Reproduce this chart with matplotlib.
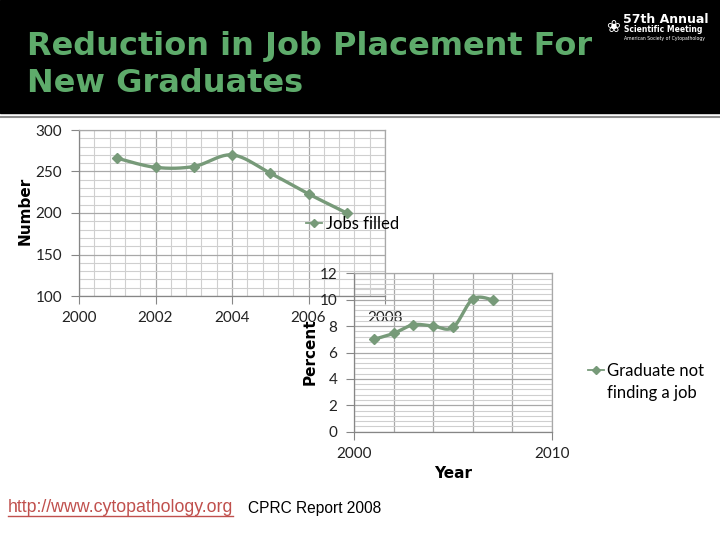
"""Reduction in job placement for new graduates: two overlapping line charts."""
import matplotlib
matplotlib.use("Agg")
import matplotlib.pyplot as plt
import numpy as np
from matplotlib.lines import Line2D
from matplotlib.ticker import MultipleLocator

# ---------------------------------------------------------------------------
# Data
# ---------------------------------------------------------------------------
years_jobs = [2001, 2002, 2003, 2004, 2005, 2006, 2007]
jobs_filled = [266, 255, 256, 270, 248, 223, 200]

years_pct = [2001, 2002, 2003, 2004, 2005, 2006, 2007]
pct_not_finding = [7.0, 7.45, 8.1, 8.0, 7.9, 10.05, 10.0]

LINE_C = "#779a79"
TITLE_C = "#5eab6b"
MINOR_C = "#cfcfcf"
MAJOR_C = "#a8a8a8"
TICK_FONT = "Lato"


def smooth(x, y, n=24):
    """Excel-style smoothed line (Bezier through points, tension 1/6)."""
    p = np.column_stack([x, y]).astype(float)
    p = np.vstack([p[0], p, p[-1]])
    t = np.linspace(0, 1, n)[:, None]
    out = []
    for i in range(1, len(p) - 2):
        p0, p1, p2, p3 = p[i - 1], p[i], p[i + 1], p[i + 2]
        b1 = p1 + (p2 - p0) / 6.0
        b2 = p2 - (p3 - p1) / 6.0
        seg = ((1 - t) ** 3) * p1 + 3 * ((1 - t) ** 2) * t * b1 \
            + 3 * (1 - t) * t ** 2 * b2 + t ** 3 * p2
        out.append(seg)
    s = np.vstack(out)
    return s[:, 0], s[:, 1]


def style_axes(ax):
    ax.grid(True, which="minor", color=MINOR_C, lw=0.8)
    ax.grid(True, which="major", color=MAJOR_C, lw=0.9)
    ax.set_axisbelow(True)
    for sp in ax.spines.values():
        sp.set_color(MAJOR_C)
        sp.set_linewidth(0.9)
    ax.spines["left"].set_color("#868686")
    ax.spines["bottom"].set_color("#868686")
    ax.tick_params(which="major", length=6, color="#868686",
                   labelsize=11, labelcolor="#222222")
    ax.tick_params(which="minor", length=0)
    for lab in ax.get_xticklabels() + ax.get_yticklabels():
        lab.set_fontfamily(TICK_FONT)


fig = plt.figure(figsize=(7.2, 5.4), dpi=100)
fig.patch.set_facecolor("white")

# Header band
fig.add_artist(plt.Rectangle((0, 1 - 113 / 540), 1, 113 / 540,
                             transform=fig.transFigure, color="black", zorder=0))
fig.add_artist(Line2D([0, 1], [1 - 117 / 540] * 2, transform=fig.transFigure,
                      color="#8c8c8c", lw=1.5))
fig.text(27 / 720, 1 - 55 / 540, "Reduction in Job Placement For",
         color=TITLE_C, fontsize=23, fontweight="bold",
         family="DejaVu Sans", va="baseline")
fig.text(27 / 720, 1 - 92 / 540, "New Graduates",
         color=TITLE_C, fontsize=23, fontweight="bold",
         family="DejaVu Sans", va="baseline")

# Logo (approximate)
fig.text(606 / 720, 1 - 27 / 540, "\u2740", color="white", fontsize=12,
         family="DejaVu Sans", va="center")
fig.text(623 / 720, 1 - 23 / 540, "57th Annual", color="white", fontsize=9,
         fontweight="bold", family="DejaVu Sans", va="baseline")
fig.text(624 / 720, 1 - 32 / 540, "Scientific Meeting", color="white",
         fontsize=5.5, fontweight="bold", family="DejaVu Sans", va="baseline")
fig.text(624 / 720, 1 - 40 / 540, "American Society of Cytopathology",
         color="white", fontsize=3.3, family="DejaVu Sans", va="baseline")

# ---------------------------------------------------------------------------
# Top chart: jobs filled
# ---------------------------------------------------------------------------
ax1 = fig.add_axes([79 / 720, 1 - 296 / 540, 306 / 720, 166 / 540])
xs, ys = smooth(years_jobs, jobs_filled)
ax1.plot(xs, ys, color=LINE_C, lw=2.4, solid_capstyle="round", zorder=3)
ax1.plot(years_jobs, jobs_filled, ls="none", marker="D", ms=5,
         color=LINE_C, zorder=4)
ax1.set_xlim(2000, 2008)
ax1.set_ylim(100, 300)
ax1.xaxis.set_major_locator(MultipleLocator(2))
ax1.xaxis.set_minor_locator(MultipleLocator(0.4))
ax1.yaxis.set_major_locator(MultipleLocator(50))
ax1.yaxis.set_minor_locator(MultipleLocator(10))
ax1.set_xticks([2000, 2002, 2004, 2006, 2008])
ax1.set_xticklabels(["2000", "2002", "2004", "2006", "2008"])
ax1.tick_params(axis="x", pad=5)
ax1.tick_params(axis="y", pad=6)
style_axes(ax1)
ax1.set_ylabel("Number", fontsize=11, fontweight="bold", family="DejaVu Sans")
ax1.yaxis.set_label_coords(-46 / 306, 0.512)
ax1.set_facecolor("none")
ax1.legend([Line2D([], [], color=LINE_C, lw=1.3, marker="D", ms=4.5)],
           ["Jobs filled"], loc="center left", frameon=False,
           bbox_to_anchor=(299 / 720, 1 - 224 / 540), borderaxespad=0,
           bbox_transform=fig.transFigure, handlelength=1.0,
           handletextpad=0.25, prop={"family": TICK_FONT, "size": 12})

# ---------------------------------------------------------------------------
# Bottom chart: graduates not finding a job
# ---------------------------------------------------------------------------
ax2 = fig.add_axes([354 / 720, 1 - 431.7 / 540, 198 / 720, 158.4 / 540])
xs, ys = smooth(years_pct, pct_not_finding)
ax2.plot(xs, ys, color=LINE_C, lw=2.4, solid_capstyle="round", zorder=3)
ax2.plot(years_pct, pct_not_finding, ls="none", marker="D", ms=5,
         color=LINE_C, zorder=4)
ax2.set_xlim(2000, 2010)
ax2.set_ylim(0, 12)
ax2.xaxis.set_major_locator(MultipleLocator(10))
ax2.xaxis.set_minor_locator(MultipleLocator(2))
ax2.yaxis.set_major_locator(MultipleLocator(2))
ax2.yaxis.set_minor_locator(MultipleLocator(0.4))
ax2.set_xticks([2000, 2010])
ax2.set_xticklabels(["2000", "2010"])
ax2.tick_params(axis="x", pad=5)
ax2.tick_params(axis="y", pad=6)
style_axes(ax2)
ax2.grid(True, which="minor", axis="x", color=MAJOR_C, lw=0.9)
ax2.set_facecolor("none")
ax2.set_ylabel("Percent", fontsize=11, fontweight="bold", family="DejaVu Sans")
ax2.yaxis.set_label_coords(-36 / 198, 0.503)
ax2.set_xlabel("Year", fontsize=11, fontweight="bold", family="DejaVu Sans")
ax2.xaxis.set_label_coords(0.5, -34 / 158.4)
leg2 = ax2.legend([Line2D([], [], color=LINE_C, lw=1.3, marker="D", ms=4.5)],
                  ["Graduate not"], loc="center left", frameon=False,
                  bbox_to_anchor=(581 / 720, 1 - 371 / 540), borderaxespad=0,
                  bbox_transform=fig.transFigure, handlelength=1.0,
                  handletextpad=0.15, prop={"family": TICK_FONT, "size": 12})

# ---------------------------------------------------------------------------
# Footer
# ---------------------------------------------------------------------------
url = fig.text(8 / 720, 1 - 508 / 540, "http://www.cytopathology.org",
               color="#c0504d", fontsize=12.8, family="Liberation Sans",
               va="center")
fig.text(248 / 720, 1 - 508 / 540, "CPRC Report 2008", color="black",
         fontsize=11.2, family="Liberation Sans", va="center")
fig.canvas.draw()
bb = url.get_window_extent().transformed(fig.transFigure.inverted())
fig.add_artist(Line2D([bb.x0, bb.x1], [bb.y0 + 1 / 540] * 2,
                      transform=fig.transFigure, color="#c0504d", lw=1))

# second line of the bottom legend entry, aligned with its first line
lt = leg2.get_texts()[0].get_window_extent().transformed(
    fig.transFigure.inverted())
fig.text(lt.x0, 1 - 393 / 540, "finding a job", family=TICK_FONT, fontsize=12,
         va="center", ha="left")

fig.savefig("out.png", dpi=100)
